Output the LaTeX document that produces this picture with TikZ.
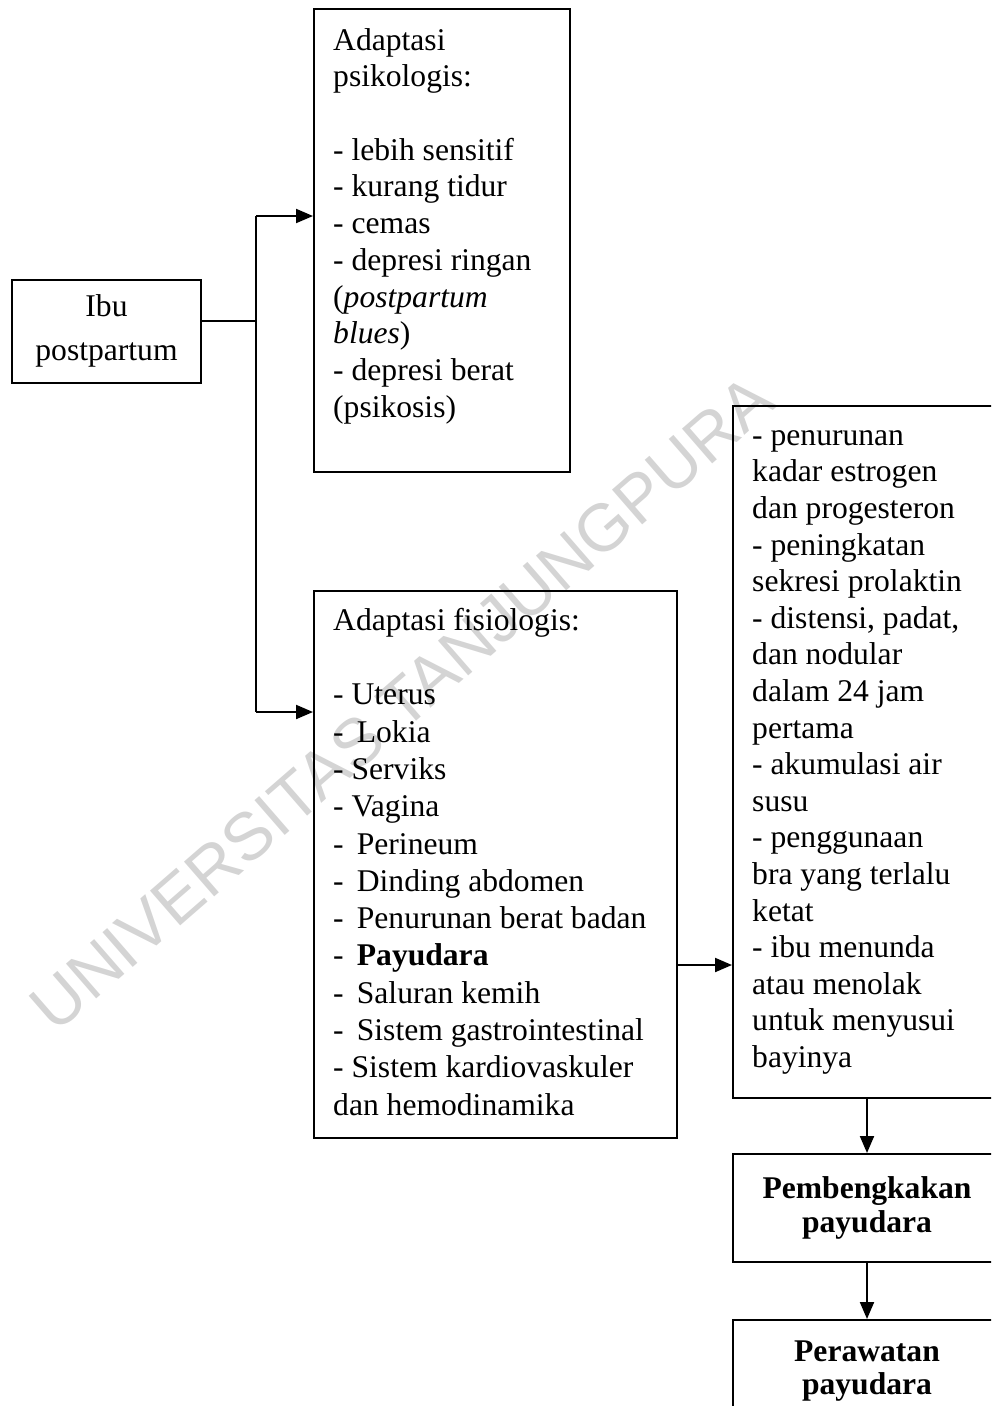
\documentclass[tikz,border=0pt]{standalone}
\usepackage{fontspec}
\setmainfont{Liberation Serif}
\newfontfamily\wmfont{Liberation Sans}
\usetikzlibrary{arrows.meta}
\tikzset{
 box/.style={draw, line width=2pt, anchor=north west, inner sep=0pt},
 txt/.style={anchor=north west, inner sep=0pt, align=left},
 arr/.style={-{Triangle[length=17pt,width=14pt]}, line width=2pt},
 lin/.style={line width=2pt}
}
\newcommand{\bodyfont}[1]{\fontsize{31.6}{#1}\selectfont}
\begin{document}
\begin{tikzpicture}[x=1pt,y=-1pt]
\useasboundingbox (0,0) rectangle (991,1406);
\clip (0,0) rectangle (991,1406);
% watermark behind everything
\node[rotate=41, text=black!17, font=\wmfont\fontsize{67}{67}\selectfont] (wm) at (402,703) {UNIVERSITAS TANJUNGPURA};

% boxes
\node[box, anchor=center, minimum width=189pt, minimum height=103pt, align=center, font=\bodyfont{44}] (ibu) at (106.5,331) {Ibu\\postpartum};
\node[box, minimum width=256pt, minimum height=463pt] (psi) at (313,8) {};
\node[box, minimum width=363pt, minimum height=547pt] (fis) at (313,590) {};
\node[box, minimum width=268pt, minimum height=692pt] (sig) at (732,405) {};
\node[box, minimum width=268pt, minimum height=108pt, align=center, font=\bfseries\bodyfont{34}] (pem) at (732,1153) {Pembengkakan\\payudara};
\node[box, minimum width=268pt, minimum height=102pt, align=center, font=\bfseries\bodyfont{33}] (per) at (732,1319) {Perawatan\\payudara};

% box texts
\node[txt, font=\bodyfont{36.7}] (psitx) at (333,24.3) {\strut Adaptasi\\psikologis:\\[36.7pt]
- lebih sensitif\\- kurang tidur\\- cemas\\- depresi ringan\\(\textit{postpartum}\\\textit{blues})\\- depresi berat\\(psikosis)};
\node[txt, font=\bodyfont{37.3}] (fistx) at (333,603.9) {\strut Adaptasi fisiologis:\\[37.3pt]
- Uterus\\- \,Lokia\\- Serviks\\- Vagina\\- \,Perineum\\- \,Dinding abdomen\\- \,Penurunan berat badan\\- \,\textbf{Payudara}\\- \,Saluran kemih\\- \,Sistem gastrointestinal\\- Sistem kardiovaskuler\\dan hemodinamika};
\node[txt, font=\bodyfont{36.6}] (sigtx) at (752,419.4) {\strut - penurunan\\kadar estrogen\\dan progesteron\\- peningkatan\\sekresi prolaktin\\- distensi, padat,\\dan nodular\\dalam 24 jam\\pertama\\- akumulasi air\\susu\\- penggunaan\\bra yang terlalu\\ketat\\- ibu menunda\\atau menolak\\untuk menyusui\\bayinya};

% connectors
\coordinate (j1) at (256,216);
\coordinate (j2) at (256,712);
\coordinate (ib) at ([yshift=10pt]ibu.east);
\draw[lin] (ib) -- (ib -| j1);
\draw[lin] (j1) -- (j2);
\draw[arr] (j1) -- (j1 -| psi.west);
\draw[arr] (j2) -- (j2 -| fis.west);
\coordinate (py) at (fis.east |- 0,965);
\draw[arr] (py) -- (py -| sig.west);
\draw[arr] (sig.south) -- (pem.north);
\draw[arr] (pem.south) -- (per.north);
\end{tikzpicture}
\end{document}
